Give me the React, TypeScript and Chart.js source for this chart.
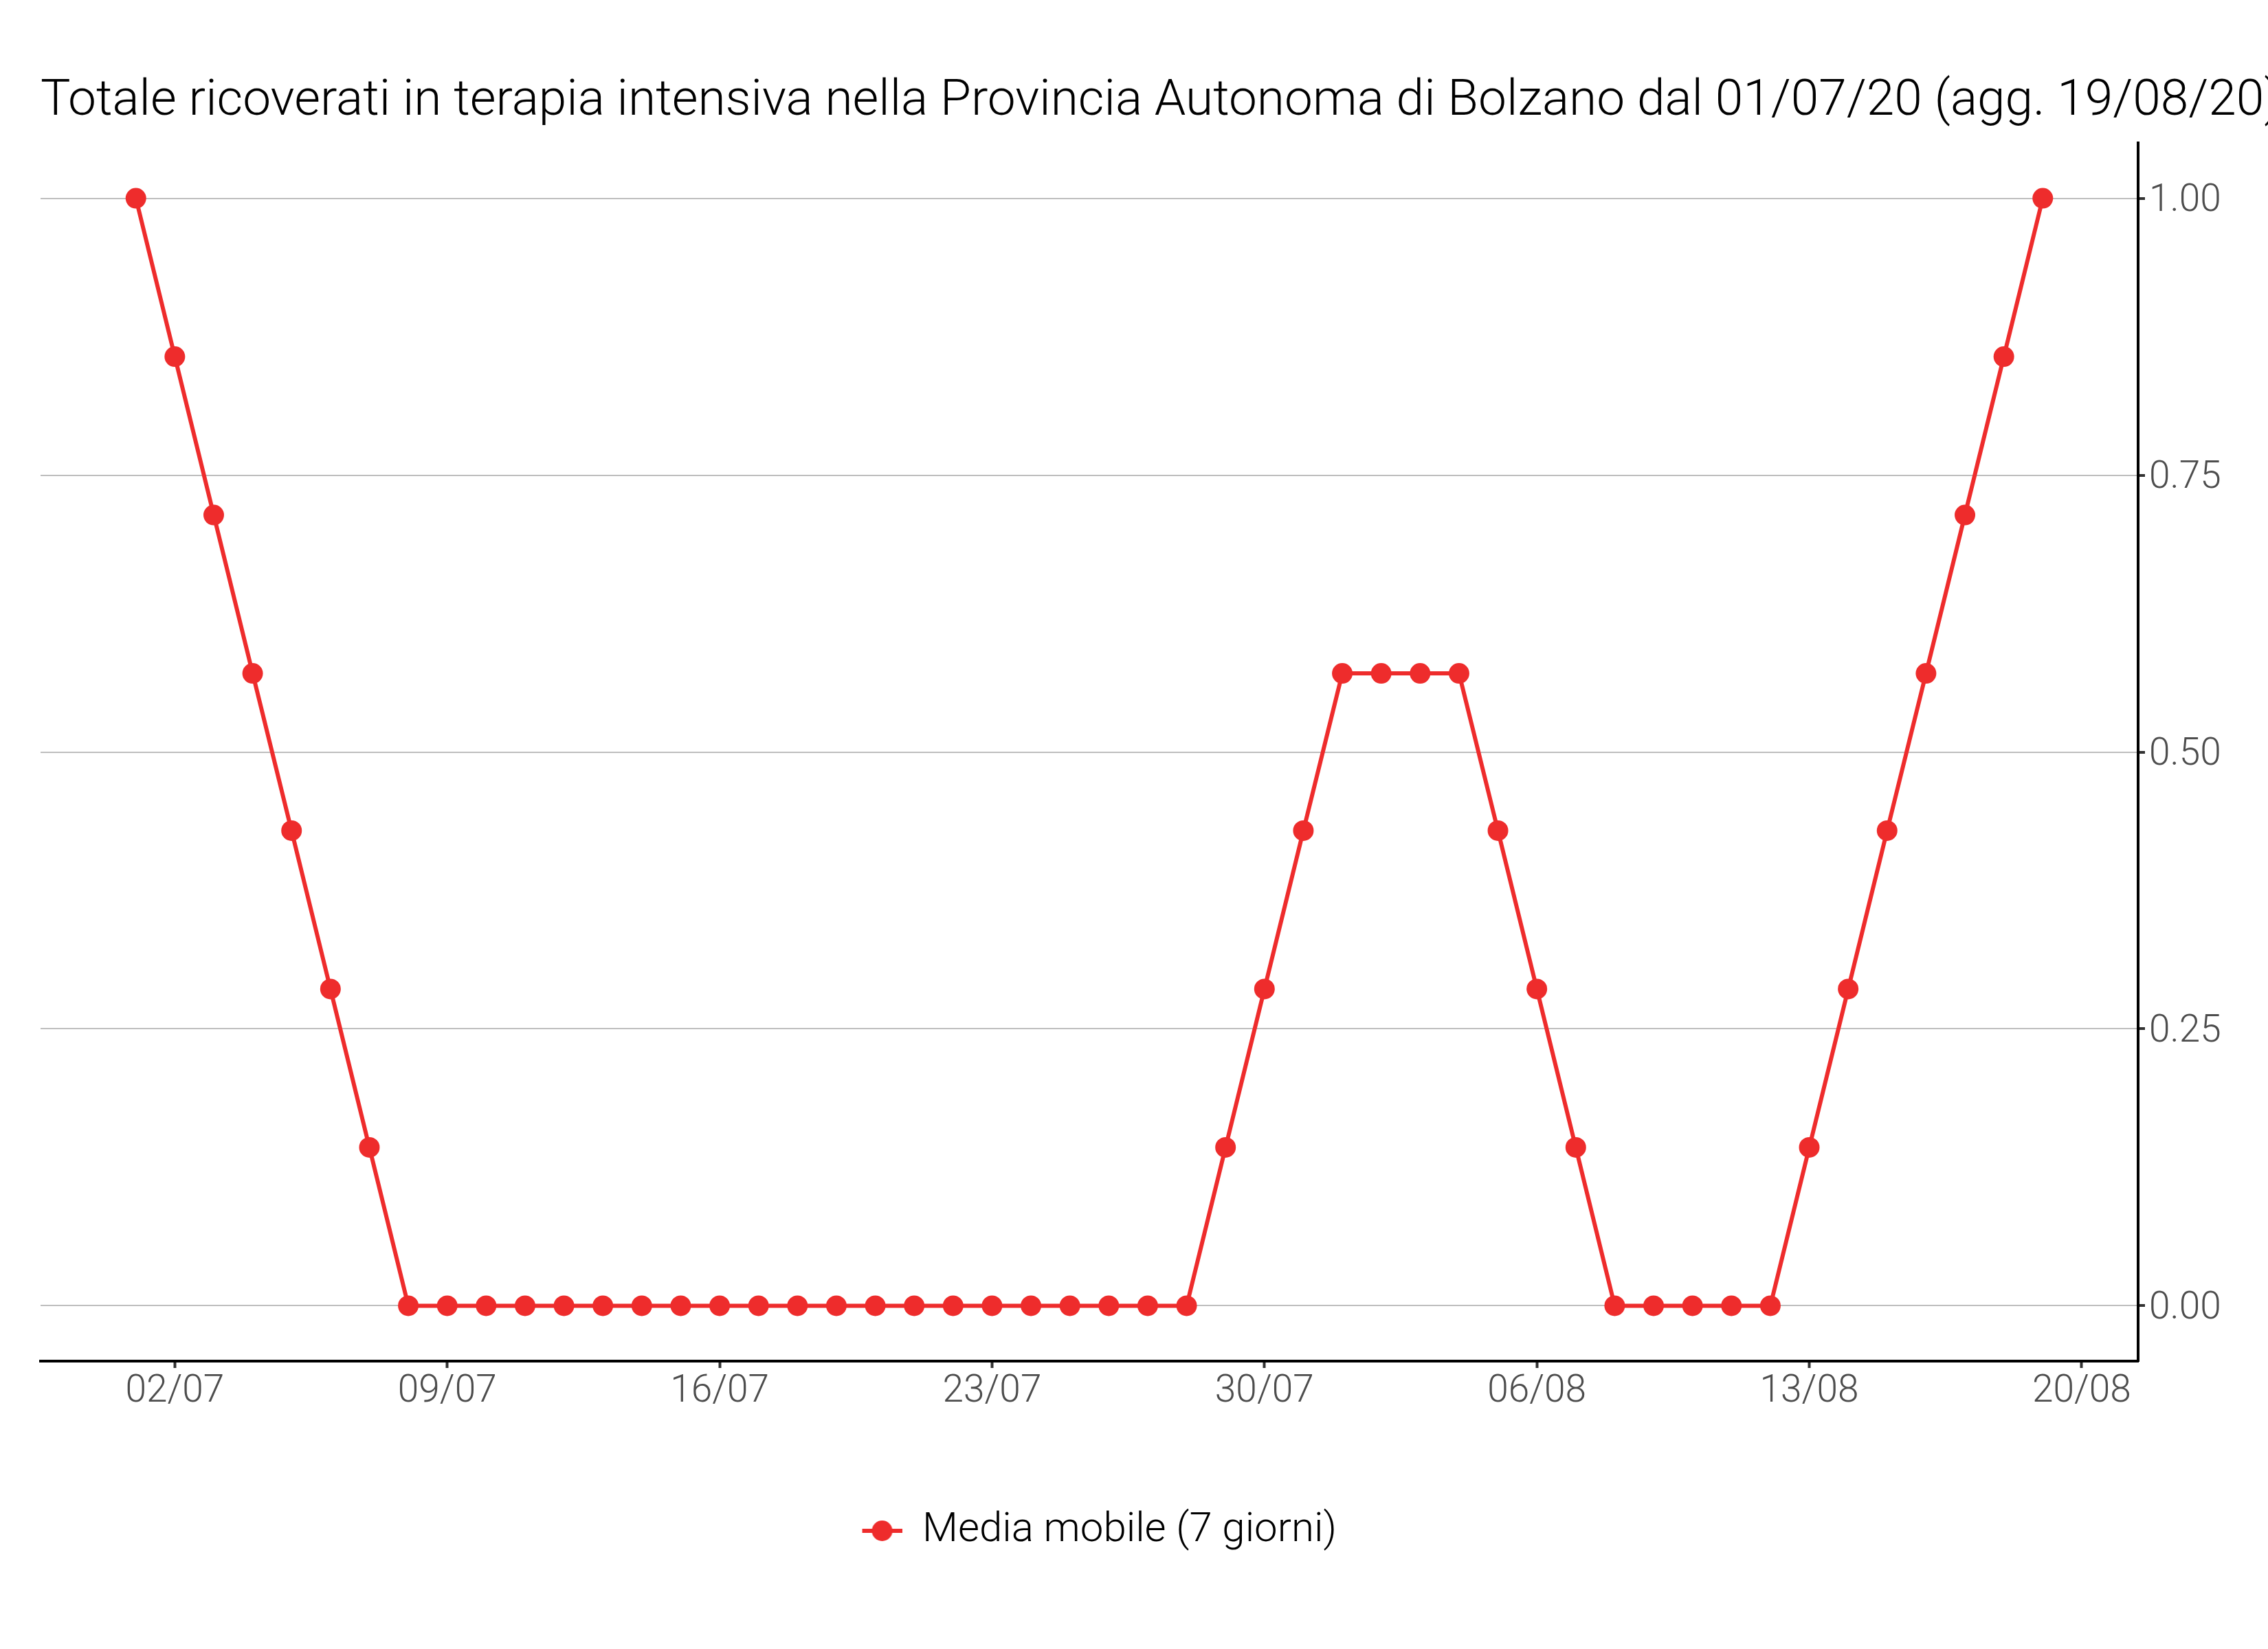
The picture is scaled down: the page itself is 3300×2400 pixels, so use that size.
import React, { useEffect, useRef } from 'react';
import { Chart, registerables } from 'chart.js';

Chart.register(...registerables);

const TITLE = 'Totale ricoverati in terapia intensiva nella Provincia Autonoma di Bolzano dal 01/07/20 (agg. 19/08/20)';
const SERIES_LABEL = 'Media mobile (7 giorni)';

const dates = [
  '01/07', '02/07', '03/07', '04/07', '05/07', '06/07', '07/07', '08/07', '09/07', '10/07',
  '11/07', '12/07', '13/07', '14/07', '15/07', '16/07', '17/07', '18/07', '19/07', '20/07',
  '21/07', '22/07', '23/07', '24/07', '25/07', '26/07', '27/07', '28/07', '29/07', '30/07',
  '31/07', '01/08', '02/08', '03/08', '04/08', '05/08', '06/08', '07/08', '08/08', '09/08',
  '10/08', '11/08', '12/08', '13/08', '14/08', '15/08', '16/08', '17/08', '18/08', '19/08',
];

const values = [
  1.0, 0.857, 0.714, 0.571, 0.429, 0.286, 0.143, 0, 0, 0,
  0, 0, 0, 0, 0, 0, 0, 0, 0, 0,
  0, 0, 0, 0, 0, 0, 0, 0, 0.143, 0.286,
  0.429, 0.571, 0.571, 0.571, 0.571, 0.429, 0.286, 0.143, 0, 0,
  0, 0, 0, 0.143, 0.286, 0.429, 0.571, 0.714, 0.857, 1.0,
];

// day offsets from 01/07 and their labels
const xTickValues = [1, 8, 15, 22, 29, 36, 43, 50];
const xTickLabels = ['02/07', '09/07', '16/07', '23/07', '30/07', '06/08', '13/08', '20/08'];

const yTickValues = [0, 0.25, 0.5, 0.75, 1.0];
const yTickLabels = ['0.00', '0.25', '0.50', '0.75', '1.00'];

const RED = '#EE2C2C';
const ICON_SHIFT = 30;

function makeLegendIcon(): HTMLCanvasElement {
  const c = document.createElement('canvas');
  c.width = 58 + ICON_SHIFT;
  c.height = 32;
  const ctx = c.getContext('2d')!;
  ctx.strokeStyle = RED;
  ctx.lineWidth = 6;
  ctx.beginPath();
  ctx.moveTo(ICON_SHIFT, 16);
  ctx.lineTo(ICON_SHIFT + 58, 16);
  ctx.stroke();
  ctx.fillStyle = RED;
  ctx.beginPath();
  ctx.arc(ICON_SHIFT + 29, 16, 15, 0, Math.PI * 2);
  ctx.fill();
  return c;
}

export default function App() {
  const ref = useRef<HTMLCanvasElement | null>(null);

  useEffect(() => {
    document.body.style.margin = '0';
    const canvas = ref.current;
    if (!canvas) return;

    const xRange = dates.length - 1;
    const xPad = xRange * 0.05;
    const yMin = Math.min(...values);
    const yMax = Math.max(...values);
    const yPad = (yMax - yMin) * 0.05;

    const points = values.map((v, i) => ({ x: i, y: v }));

    const chart = new Chart(canvas, {
      type: 'line',
      data: {
        datasets: [
          {
            label: SERIES_LABEL,
            data: points,
            borderColor: RED,
            backgroundColor: RED,
            borderWidth: 6,
            pointRadius: 15,
            pointBorderWidth: 0,
            pointBackgroundColor: RED,
            pointHoverRadius: 15,
            tension: 0,
          },
        ],
      },
      options: {
        responsive: false,
        animation: false,
        events: [],
        devicePixelRatio: 1,
        layout: { padding: { left: 59, right: -300, top: 0, bottom: 132 } },
        plugins: {
          tooltip: { enabled: false },
          title: {
            display: true,
            text: TITLE,
            align: 'start',
            color: '#000000',
            font: { family: 'Roboto', size: 73, weight: 300, lineHeight: 1 },
            padding: { top: 112, bottom: 23 },
          },
          legend: {
            display: true,
            position: 'bottom',
            fullSize: false,
            labels: {
              usePointStyle: true,
              pointStyle: makeLegendIcon(),
              pointStyleWidth: 57 + ICON_SHIFT,
              boxWidth: 57 + ICON_SHIFT,
              color: '#000000',
              font: { family: 'Roboto', size: 60, weight: 300 },
              padding: 10,
            },
          },
        },
        scales: {
          x: {
            type: 'linear',
            min: -xPad,
            max: xRange + xPad,
            afterBuildTicks: (s: any) => {
              s.ticks = xTickValues.map((v) => ({ value: v }));
            },
            afterFit: (s: any) => {
              s.height = 207;
            },
            grid: {
              drawOnChartArea: false,
              drawTicks: true,
              tickLength: 10,
              tickColor: '#333333',
              tickWidth: 4,
            },
            border: { display: true, color: '#000000', width: 4 },
            ticks: {
              color: '#4d4d4d',
              font: { family: 'Roboto', size: 55, weight: 300, lineHeight: 1 },
              padding: 8,
              maxRotation: 0,
              autoSkip: false,
              callback: (_v: any, i: number) => xTickLabels[i],
            },
          },
          y: {
            type: 'linear',
            position: 'right',
            min: yMin - yPad,
            max: yMax + yPad,
            afterBuildTicks: (s: any) => {
              s.ticks = yTickValues.map((v) => ({ value: v }));
            },
            afterFit: (s: any) => {
              s.width = 489;
            },
            grid: {
              color: '#bebebe',
              lineWidth: 2,
              drawTicks: true,
              tickLength: 10,
              tickColor: '#333333',
              tickWidth: 4,
            },
            border: { display: true, color: '#000000', width: 4 },
            ticks: {
              color: '#4d4d4d',
              font: { family: 'Roboto', size: 55, weight: 300 },
              padding: 6,
              labelOffset: 5,
              autoSkip: false,
              callback: (_v: any, i: number) => yTickLabels[i],
            },
          },
        },
      },
    });

    return () => chart.destroy();
  }, []);

  return (
    <div style={{ width: 3300, height: 2400, overflow: 'hidden' }}>
      <canvas ref={ref} width={3300} height={2400} style={{ display: 'block', width: 3300, height: 2400 }} />
    </div>
  );
}
